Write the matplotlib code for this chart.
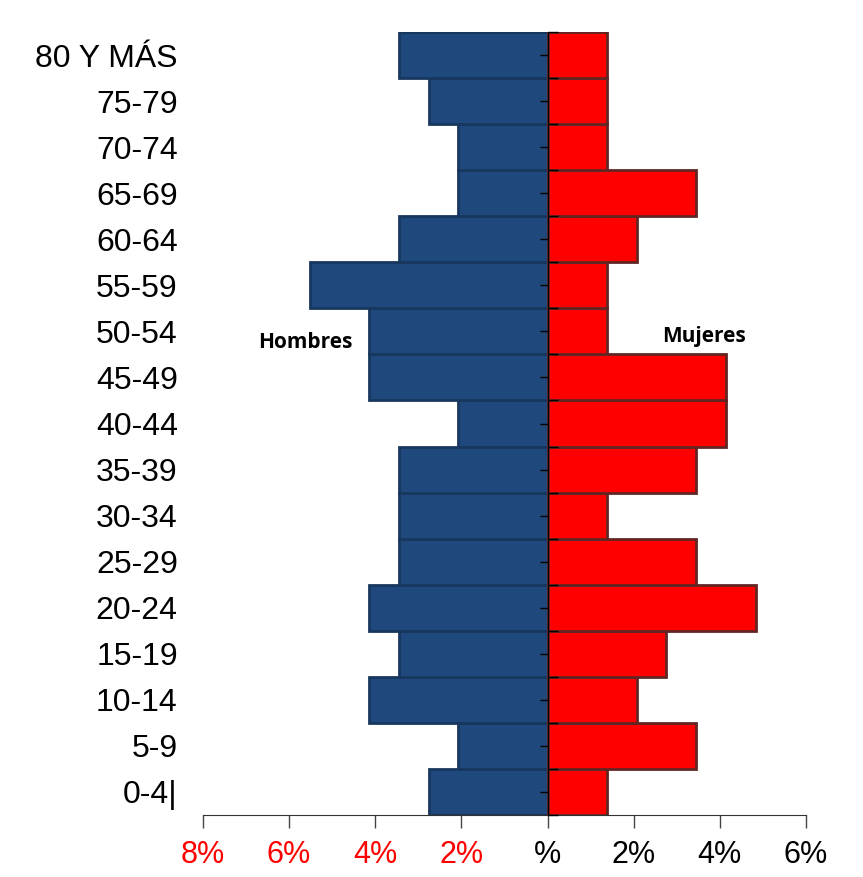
import numpy as np
import matplotlib
matplotlib.use("Agg")
import matplotlib.pyplot as plt

# age groups, bottom to top
grupos = ['0-4|', '5-9', '10-14', '15-19', '20-24', '25-29', '30-34', '35-39',
          '40-44', '45-49', '50-54', '55-59', '60-64', '65-69', '70-74', '75-79',
          '80 Y MÁS']
hombres = [2.76, 2.07, 4.14, 3.45, 4.14, 3.45, 3.45, 3.45, 2.07, 4.14, 4.14,
           5.52, 3.45, 2.07, 2.07, 2.76, 3.45]
mujeres = [1.38, 3.45, 2.07, 2.76, 4.83, 3.45, 1.38, 3.45, 4.14, 4.14, 1.38,
           1.38, 2.07, 3.45, 1.38, 1.38, 1.38]
xticks = [-8, -6, -4, -2, 0, 2, 4, 6]
xlabels = ['8%', '6%', '4%', '2%', '%', '2%', '4%', '6%']
xcolors = ['red', 'red', 'red', 'red', 'black', 'black', 'black', 'black']

plt.rcParams['font.family'] = ['Liberation Sans', 'DejaVu Sans']

fig = plt.figure(figsize=(8.63, 8.77), dpi=100)
ax = fig.add_axes([0.235, 0.0707, 0.699, 0.8928])

y = np.arange(len(grupos))
ax.barh(y, -np.array(hombres), height=1.0, color='#1F497D',
        edgecolor='#17375E', linewidth=2, zorder=2)
ax.barh(y, mujeres, height=1.0, color='#FF0000',
        edgecolor='#632523', linewidth=2, zorder=2)

ax.set_xlim(-8, 6)
ax.set_ylim(-0.5, len(grupos) - 0.5)

ax.set_xticks(xticks)
ax.set_xticklabels(xlabels, fontsize=22)
for lab, c in zip(ax.get_xticklabels(), xcolors):
    lab.set_color(c)
ax.tick_params(axis='x', length=9, width=1, color='#444444', pad=9)

ax.set_yticks(y)
ax.set_yticklabels(grupos, fontsize=23)
ax.tick_params(axis='y', length=0, pad=18)

for s in ['top', 'left', 'right']:
    ax.spines[s].set_visible(False)
ax.spines['bottom'].set_color('#333333')

# central axis with ticks
sec = ax.secondary_yaxis(8 / 14)
sec.spines['left'].set_color('black')
sec.spines['left'].set_linewidth(1.5)
sec.set_yticks(np.arange(len(grupos) + 1) - 0.5)
sec.set_yticks(y, minor=True)
sec.tick_params(axis='y', which='major', direction='out', length=7,
                width=1, labelleft=False, labelright=False)
sec.tick_params(axis='y', which='minor', direction='in', length=6,
                width=1, labelleft=False, labelright=False)
sec.set_zorder(3)

ax.text(-5.63, 9.75, 'Hombres', fontsize=15, fontweight='bold',
        family='Open Sans', ha='center', va='center')
ax.text(3.63, 9.88, 'Mujeres', fontsize=15, fontweight='bold',
        family='Open Sans', ha='center', va='center')

fig.savefig('out.png', dpi=100)
